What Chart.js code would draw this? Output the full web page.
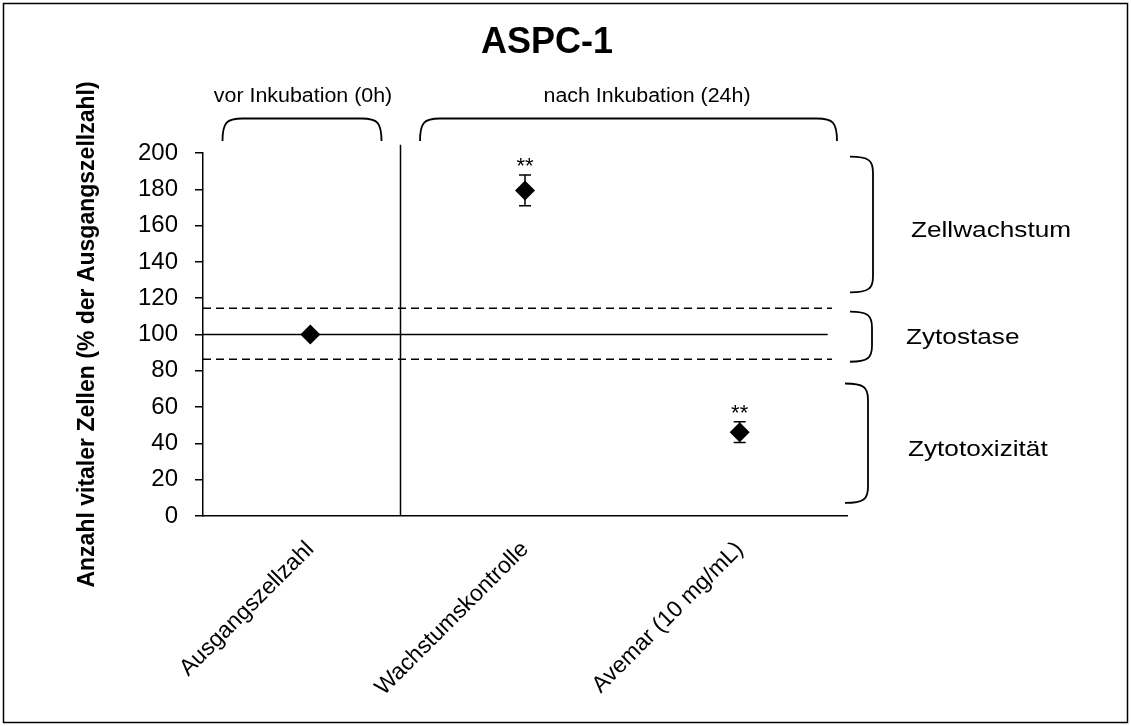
<!DOCTYPE html>
<html>
<head>
<meta charset="utf-8">
<title>ASPC-1</title>
<script src="https://cdn.jsdelivr.net/npm/chart.js@4.4.1/dist/chart.umd.min.js"></script>
<style>
  html, body { margin: 0; padding: 0; background: #fff; }
  canvas { display: block; }
</style>
</head>
<body>
<canvas id="aspc-chart" width="1131" height="726"></canvas>
<script>
// groups on the x axis
const categories = ['Ausgangszellzahl', 'Wachstumskontrolle', 'Avemar (10 mg/mL)'];
// vital cells in % of the starting cell count, mean and error
const meanValues = [100, 179.4, 46.2];
const errorValues = [0, 8.5, 5.7];
const significance = ['', '**', '**'];
const yTicks = [0, 20, 40, 60, 80, 100, 120, 140, 160, 180, 200];

// reference: starting count and the cytostasis band around it
const baseline = 100;
const bandUpper = 114.5;
const bandLower = 86.3;
// divider between "before" and "after" incubation, in category units
const dividerX = 0.42;
const dividerTop = 204.6;

const FONT = "'Liberation Sans', Arial, sans-serif";

// text with a slight horizontal stretch
function stretchedText(ctx, text, x, y, size, align, sx, weight) {
  ctx.save();
  ctx.font = (weight || 'normal') + ' ' + size + 'px ' + FONT;
  ctx.fillStyle = '#000';
  ctx.textBaseline = 'alphabetic';
  ctx.textAlign = align;
  ctx.translate(x, y);
  ctx.scale(sx, 1);
  ctx.fillText(text, 0, 0);
  ctx.restore();
}

// bracket opening downwards (above the groups)
function topBrace(ctx, x0, x1, top, bot) {
  ctx.beginPath();
  ctx.moveTo(x0, bot);
  ctx.bezierCurveTo(x0, top + 4, x0 + 4, top, x0 + 20, top);
  ctx.lineTo(x1 - 20, top);
  ctx.bezierCurveTo(x1 - 4, top, x1, top + 4, x1, bot);
  ctx.stroke();
}

// bracket opening to the left (right of the plot)
function rightBrace(ctx, xEnd, xSpine, top, bot) {
  ctx.beginPath();
  ctx.moveTo(xEnd, top);
  ctx.bezierCurveTo(xSpine - 4, top, xSpine, top + 4, xSpine, top + 16);
  ctx.lineTo(xSpine, bot - 16);
  ctx.bezierCurveTo(xSpine, bot - 4, xSpine - 4, bot, xEnd, bot);
  ctx.stroke();
}

const errorBars = {
  id: 'errorBars',
  beforeDatasetsDraw(chart) {
    const {ctx, scales: {x, y}} = chart;
    ctx.save();
    ctx.strokeStyle = '#000';
    ctx.lineWidth = 1.5;
    meanValues.forEach((m, i) => {
      const e = errorValues[i];
      if (!e) return;
      const px = x.getPixelForValue(i);
      const hi = y.getPixelForValue(m + e);
      const lo = y.getPixelForValue(m - e);
      ctx.beginPath();
      ctx.moveTo(px, hi); ctx.lineTo(px, lo);
      ctx.moveTo(px - 6, hi); ctx.lineTo(px + 6, hi);
      ctx.moveTo(px - 6, lo); ctx.lineTo(px + 6, lo);
      ctx.stroke();
    });
    ctx.restore();
  },
  afterDatasetsDraw(chart) {
    const {ctx, scales: {x, y}} = chart;
    meanValues.forEach((m, i) => {
      if (!significance[i]) return;
      const px = x.getPixelForValue(i);
      const py = y.getPixelForValue(m + errorValues[i]) - 1.5;
      stretchedText(ctx, significance[i], px, py, 22, 'center', 1);
    });
  }
};

const annotations = {
  id: 'annotations',
  afterDraw(chart) {
    const {ctx, scales: {y}} = chart;
    ctx.save();
    ctx.strokeStyle = '#000';
    ctx.lineWidth = 1.5;
    ctx.strokeRect(3.5, 3.5, 1124, 719);

    // title
    stretchedText(ctx, 'ASPC-1', 547, 53, 36, 'center', 1, 'bold');

    // incubation groups
    ctx.lineWidth = 1.8;
    topBrace(ctx, 222.5, 381.5, 118.5, 141);
    topBrace(ctx, 420, 837, 118.5, 141);
    stretchedText(ctx, 'vor Inkubation (0h)', 303, 102, 20, 'center', 1.07);
    stretchedText(ctx, 'nach Inkubation (24h)', 647, 102, 20, 'center', 1.07);

    // effect ranges
    rightBrace(ctx, 850, 873, y.getPixelForValue(198), y.getPixelForValue(123.2));
    rightBrace(ctx, 850, 872, y.getPixelForValue(112.6), y.getPixelForValue(85));
    rightBrace(ctx, 845, 868, y.getPixelForValue(73), y.getPixelForValue(7.2));
    stretchedText(ctx, 'Zellwachstum', 911, 237, 22, 'left', 1.19);
    stretchedText(ctx, 'Zytostase', 906, 344, 22, 'left', 1.19);
    stretchedText(ctx, 'Zytotoxizität', 908, 456, 22, 'left', 1.19);
    ctx.restore();
  }
};

const refLine = (pts, dash) => ({
  type: 'line',
  data: pts,
  borderColor: '#000',
  borderWidth: 1.5,
  borderDash: dash || [],
  pointRadius: 0,
  fill: false,
  clip: false,
  order: 2
});

new Chart(document.getElementById('aspc-chart'), {
  type: 'scatter',
  data: {
    datasets: [
      {
        data: meanValues.map((m, i) => ({x: i, y: m})),
        pointStyle: 'rectRot',
        pointRadius: 10,
        backgroundColor: '#000',
        borderColor: '#000',
        borderWidth: 0,
        order: 0
      },
      refLine([{x: -0.5, y: baseline}, {x: 2.41, y: baseline}]),
      refLine([{x: -0.5, y: bandUpper}, {x: 2.43, y: bandUpper}], [8, 5]),
      refLine([{x: -0.5, y: bandLower}, {x: 2.43, y: bandLower}], [8, 5]),
      refLine([{x: dividerX, y: 0}, {x: dividerX, y: dividerTop}])
    ]
  },
  options: {
    responsive: false,
    animation: false,
    devicePixelRatio: 1,
    layout: { padding: { left: 74, top: 153, right: 284, bottom: 0 } },
    plugins: { legend: { display: false }, tooltip: { enabled: false } },
    scales: {
      x: {
        type: 'linear',
        min: -0.5,
        max: 2.5,
        afterBuildTicks: s => { s.ticks = categories.map((c, i) => ({value: i})); },
        afterFit: s => { s.height = 210; },
        grid: { display: false, drawTicks: false },
        border: { display: true, color: '#000', width: 1.5 },
        ticks: {
          autoSkip: false,
          minRotation: 45,
          maxRotation: 45,
          padding: 20,
          color: '#000',
          font: { family: FONT, size: 23 },
          callback: v => categories[v]
        }
      },
      y: {
        min: 0,
        max: 200,
        afterBuildTicks: s => { s.ticks = yTicks.map(v => ({value: v})); },
        afterFit: s => { s.width = 129; },
        grid: { drawOnChartArea: false, color: '#000', lineWidth: 1.5, tickLength: 8 },
        border: { display: true, color: '#000', width: 1.5 },
        ticks: { padding: 17, color: '#000', font: { family: FONT, size: 24 } },
        title: {
          display: true,
          text: 'Anzahl vitaler Zellen (% der Ausgangszellzahl)',
          color: '#000',
          padding: 0,
          font: { family: FONT, size: 23, weight: 'bold' }
        }
      }
    }
  },
  plugins: [errorBars, annotations]
});
</script>
</body>
</html>
